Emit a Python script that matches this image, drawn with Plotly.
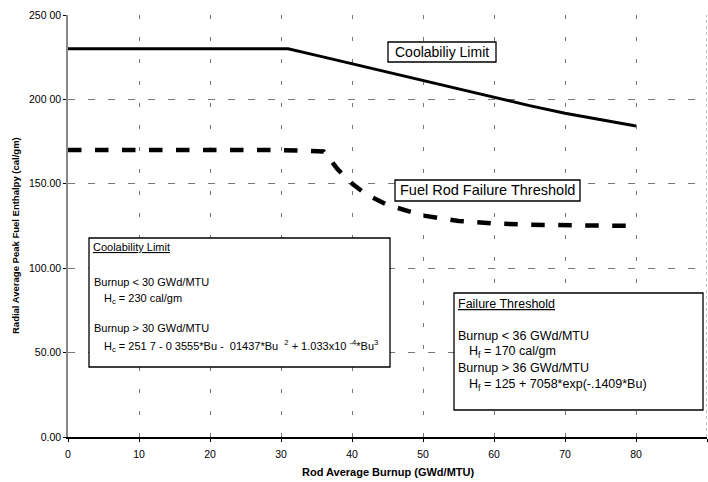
import plotly.graph_objects as go

# Coolability limit (cal/gm) vs rod average burnup (GWd/MTU)
cool_x = [0, 10, 20, 31, 35, 40, 45, 50, 55, 60, 65, 70, 75, 80]
cool_y = [230, 230, 230, 230, 226.1, 221.1, 216.0, 210.9, 205.9, 201.0, 196.3, 191.8, 187.8, 184.2]

# Fuel rod failure threshold
fail_x = [0, 10, 20, 30, 36, 38, 40, 42, 45, 50, 55, 60, 65, 70, 75, 79]
fail_y = [170, 170, 170, 170, 169.2, 158.5, 150.2, 143.8, 137.5, 131.2, 128.0, 126.5, 125.7, 125.4, 125.2, 125.1]

x_ticks = [0, 10, 20, 30, 40, 50, 60, 70, 80, 90]
y_ticks = [0, 50, 100, 150, 200, 250]
y_tick_text = ["0.00", "50.00", "100.00", "150.00", "200 00", "250 00"]

FONT = "Liberation Sans, Arial, sans-serif"

fig = go.Figure()
fig.add_trace(go.Scatter(x=cool_x, y=cool_y, mode="lines",
                         line=dict(color="black", width=3), showlegend=False))
fig.add_trace(go.Scatter(x=fail_x, y=fail_y, mode="lines",
                         line=dict(color="black", width=4.5, dash="dash"), showlegend=False))

def px2x(px):
    return (px - 68) / 7.1

def py2y(py):
    return (437 - py) / 1.688

shapes = []
for (x0, y0, x1, y1) in [(89, 238, 390, 367), (454, 293, 703, 410),
                         (388, 42, 496, 62), (395, 180, 580, 201)]:
    shapes.append(dict(type="rect", xref="x", yref="y",
                       x0=px2x(x0), x1=px2x(x1), y0=py2y(y1), y1=py2y(y0),
                       line=dict(color="black", width=1.3), fillcolor="white", layer="above"))
shapes.append(dict(type="line", xref="x", yref="y", x0=90, x1=90, y0=0, y1=250,
                   line=dict(color="#888", width=1, dash="dot"), layer="below"))

annotations = []
def dtxt(px, py, s, size=11, xanchor="left"):
    annotations.append(dict(x=px2x(px), y=py2y(py), xref="x", yref="y", text=s,
                            showarrow=False, xanchor=xanchor, yanchor="middle",
                            font=dict(family=FONT, size=size, color="black")))

dtxt(442, 52, "Coolabiliy Limit", size=14, xanchor="center")
dtxt(487, 190, "Fuel Rod Failure Threshold", size=14.5, xanchor="center")

dtxt(91, 247, "<u>Coolability Limit</u>", size=11)
dtxt(92, 282, "Burnup &lt; 30 GWd/MTU", size=11)
dtxt(102, 299, "H<sub>c</sub> = 230 cal/gm", size=11)
dtxt(92, 328, "Burnup &gt; 30 GWd/MTU", size=11)
dtxt(102, 346, "H<sub>c</sub> = 251 7 - 0 3555*Bu -  01437*Bu  <sup>2</sup> + 1.033x10 <sup>-4</sup>*Bu<sup>3</sup>", size=11)

dtxt(456, 304, "<u>Failure Threshold</u>", size=12.5)
dtxt(456, 336, "Burnup &lt; 36 GWd/MTU", size=12.5)
dtxt(467, 352, "H<sub>f</sub> = 170 cal/gm", size=12.5)
dtxt(456, 368, "Burnup &gt; 36 GWd/MTU", size=12.5)
dtxt(467, 385, "H<sub>f</sub> = 125 + 7058*exp(-.1409*Bu)", size=12.5)

W, H = 708, 482
L, R, T, B = 68, 1, 15, 45
pw, ph = W - L - R, H - T - B
def pxp(px):
    return (px - L) / pw
def pyp(py):
    return (H - B - py) / ph

annotations.append(dict(x=pxp(388), y=pyp(472), xref="paper", yref="paper",
                        text="<b>Rod Average Burnup (GWd/MTU)</b>", showarrow=False,
                        xanchor="center", yanchor="middle",
                        font=dict(family=FONT, size=11, color="black")))
annotations.append(dict(x=pxp(15), y=pyp(236), xref="paper", yref="paper",
                        text="<b>Radial Average Peak Fuel Enthalpy (cal/gm)</b>", showarrow=False,
                        xanchor="center", yanchor="middle", textangle=-90,
                        font=dict(family=FONT, size=9.5, color="black")))

fig.update_layout(
    width=W, height=H,
    margin=dict(l=L, r=R, t=T, b=B),
    plot_bgcolor="white", paper_bgcolor="white",
    font=dict(family=FONT, size=10, color="black"),
    shapes=shapes, annotations=annotations,
    xaxis=dict(range=[0, 90], tickvals=x_ticks, ticktext=[str(v) for v in x_ticks],
               showgrid=True, gridcolor="#777", griddash="4px,18px", gridwidth=1,
               showline=True, linecolor="black", linewidth=1.5,
               ticks="outside", ticklen=3, tickcolor="black",
               ticklabelstandoff=4,
               zeroline=False,
               tickfont=dict(size=10.5, family=FONT)),
    yaxis=dict(range=[0, 250], tickvals=y_ticks, ticktext=y_tick_text,
               showgrid=True, gridcolor="#777", griddash="7px,13px", gridwidth=1,
               showline=True, linecolor="#888", linewidth=1.5,
               ticks="outside", ticklen=3, tickcolor="black",
               zeroline=False,
               tickfont=dict(size=10.5, family=FONT)),
)

fig.write_html("out.html")
